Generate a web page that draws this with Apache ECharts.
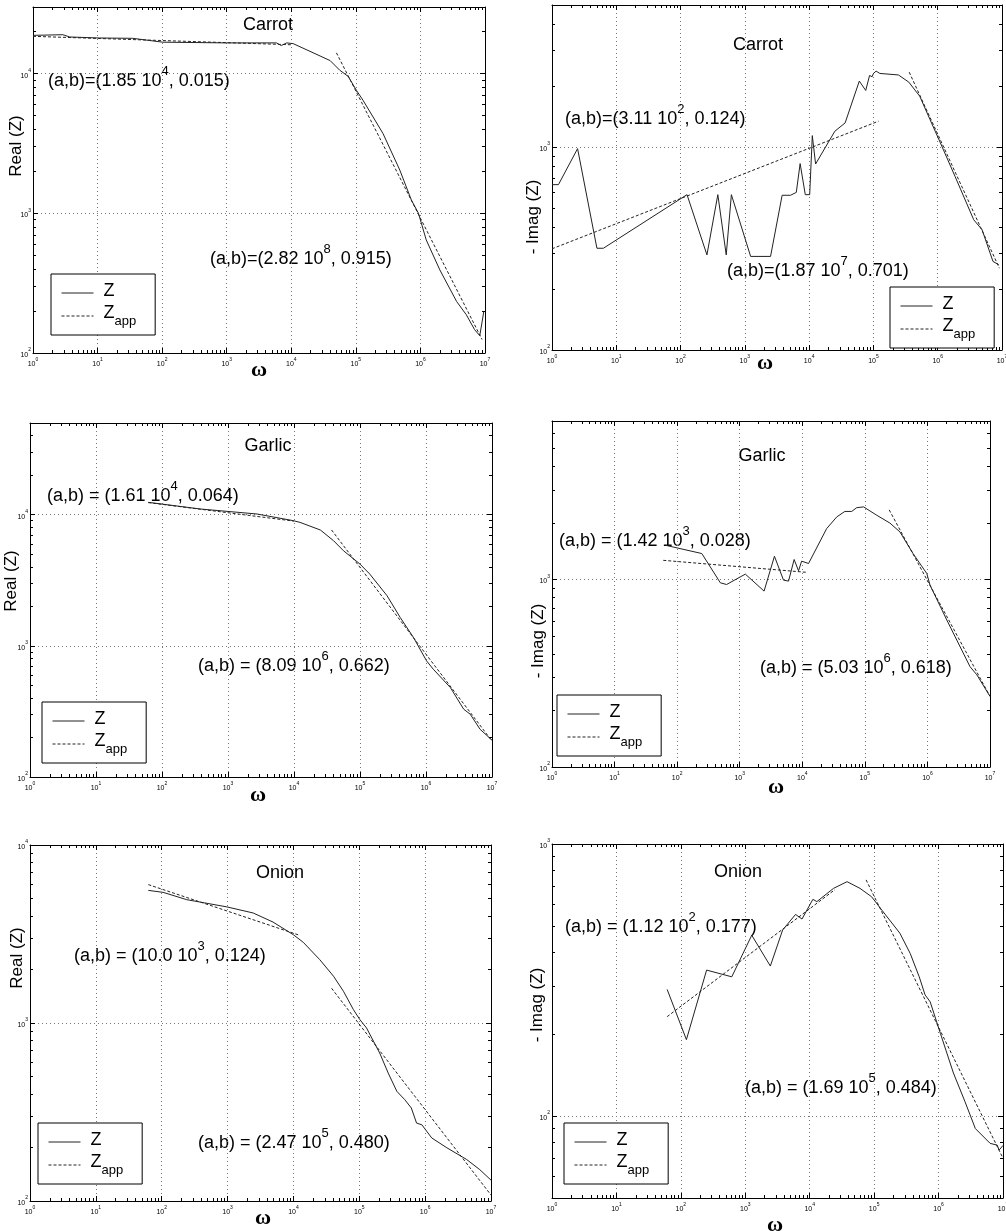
<!DOCTYPE html>
<html><head><meta charset="utf-8">
<script src="https://cdn.jsdelivr.net/npm/echarts@6/dist/echarts.min.js"></script>
<style>html,body{margin:0;padding:0;background:#fff}#c{width:1006px;height:1231px}</style>
</head><body><div id="c"></div>
<script>
// ---------------- DATA ----------------
// Carrot, Real(Z)
const carrotReW = [1, 2.9, 3.7, 10.7, 35, 102, 1000, 5900, 7000, 8500, 10700, 40000, 56000, 76000, 102000, 129000, 263000, 479000, 724000, 933000, 1.23e6, 2.0e6, 3.63e6, 5.13e6, 6.9e6, 8.3e6, 9.6e6];
const carrotReZ = [18800, 19000, 18300, 18000, 17900, 16800, 16600, 16600, 15900, 16600, 16400, 12400, 10600, 9560, 7600, 6450, 3730, 2040, 1245, 1000, 645, 393, 234, 188, 147, 133, 199];
const carrotReFitLoW = [1, 1e4];      const carrotReFitLoZ = [18500, 16100];
const carrotReFitHiW = [5e4, 9e6];    const carrotReFitHiZ = [14100, 125];
// Carrot, -Imag(Z)
const carrotImW = [1, 1.26, 2.5, 5.0, 6.3, 126, 257, 380, 513, 617, 1230, 2510, 3800, 5130, 6310, 7240, 8710, 10200, 11200, 12600, 25100, 36300, 60300, 75900, 87100, 95500, 100000, 110000, 126000, 245000, 355000, 525000, 759000, 1.1e6, 1.86e6, 3.63e6, 4.9e6, 7.24e6, 8.9e6];
const carrotImZ = [652, 652, 981, 317, 317, 582, 294, 582, 294, 582, 289, 289, 578, 578, 597, 828, 582, 582, 1137, 824, 1195, 1313, 2110, 1897, 2248, 2217, 2301, 2362, 2301, 2262, 2085, 1778, 1364, 1047, 716, 438, 391, 273, 263];
const carrotImFitLoW = [1, 1.2e5];    const carrotImFitLoZ = [315, 1339];
const carrotImFitHiW = [3.6e5, 9.1e6]; const carrotImFitHiZ = [2335, 253];
// Garlic, Real(Z)
const garlicReW = [62, 380, 2750, 9770, 12300, 25100, 39800, 56200, 100000, 141000, 257000, 407000, 646000, 1.02e6, 1.29e6, 2.34e6, 3.72e6, 4.68e6, 6.6e6, 1e7];
const garlicReZ = [12420, 11050, 10120, 9000, 8740, 7640, 6330, 5310, 4200, 3520, 2410, 1645, 1158, 768, 663, 481, 329, 301, 231, 191];
const garlicReFitLoW = [62, 1e4];     const garlicReFitLoZ = [12360, 8930];
const garlicReFitHiW = [3.7e4, 1e7];  const garlicReFitHiZ = [7650, 188];
// Garlic, -Imag(Z)
const garlicImW = [64.5, 248, 490, 617, 1230, 2450, 3590, 5010, 6030, 7410, 8710, 9770, 12600, 24500, 35500, 47900, 61700, 74100, 95500, 155000, 251000, 363000, 589000, 977000, 1.1e6, 2.04e6, 4.79e6, 6.17e6, 1e7];
const garlicImZ = [1523, 1375, 960, 940, 1068, 867, 1330, 992, 980, 1278, 1112, 1252, 1217, 1867, 2155, 2306, 2306, 2415, 2438, 2200, 2000, 1794, 1375, 1076, 933, 608, 343, 310, 238];
const garlicImFitLoW = [60, 1.2e4];   const garlicImFitLoZ = [1265, 1091];
const garlicImFitHiW = [2.45e5, 1e7]; const garlicImFitHiZ = [2350, 238];
// Onion, Real(Z)
const onionReW = [62.6, 105, 240, 977, 2450, 4900, 10000, 14100, 25100, 40700, 57500, 81300, 102000, 129000, 204000, 275000, 372000, 490000, 617000, 741000, 891000, 1.26e6, 2.14e6, 4.27e6, 6.76e6, 1e7];
const onionReZ = [5560, 5420, 4930, 4490, 4150, 3690, 3130, 2840, 2270, 1830, 1507, 1190, 1045, 937, 678, 523, 413, 371, 333, 274, 268, 226, 199, 171, 150, 131];
const onionReFitLoW = [62.6, 12600];  const onionReFitLoZ = [5990, 3104];
const onionReFitHiW = [3.8e4, 1e7];   const onionReFitHiZ = [1566, 108];
// Onion, -Imag(Z)
const onionImW = [61.3, 122, 251, 617, 1260, 2450, 3800, 6030, 7590, 11200, 12900, 23400, 38000, 60300, 91200, 132000, 251000, 363000, 501000, 617000, 741000, 1.07e6, 1.7e6, 2.57e6, 3.72e6, 6.31e6, 8.13e6, 8.7e6, 1e7];
const onionImZ = [292, 191, 344, 325, 462, 356, 483, 551, 530, 626, 614, 687, 727, 687, 640, 571, 470, 396, 325, 279, 263, 201, 144, 113, 90, 79.4, 78.2, 75, 78];
const onionImFitLoW = [61.3, 2.47e4]; const onionImFitLoZ = [232, 680];
const onionImFitHiW = [7.5e4, 1e7];   const onionImFitHiZ = [738, 70];

// texts
const panelTitles = ['Carrot', 'Carrot', 'Garlic', 'Garlic', 'Onion', 'Onion'];
const yTitles = ['Real (Z)', '- Imag (Z)', 'Real (Z)', '- Imag (Z)', 'Real (Z)', '- Imag (Z)'];
const xTitle = 'ω';
const fitLabels = [
  [['(a,b)=(1.85 10', '4', ', 0.015)'], ['(a,b)=(2.82 10', '8', ', 0.915)']],
  [['(a,b)=(3.11 10', '2', ', 0.124)'], ['(a,b)=(1.87 10', '7', ', 0.701)']],
  [['(a,b) = (1.61 10', '4', ', 0.064)'], ['(a,b) = (8.09 10', '6', ', 0.662)']],
  [['(a,b) = (1.42 10', '3', ', 0.028)'], ['(a,b) = (5.03 10', '6', ', 0.618)']],
  [['(a,b) = (10.0 10', '3', ', 0.124)'], ['(a,b) = (2.47 10', '5', ', 0.480)']],
  [['(a,b) = (1.12 10', '2', ', 0.177)'], ['(a,b) = (1.69 10', '5', ', 0.484)']]
];
const legendNames = ['Z', 'Zapp'];
const xRange = [1, 1e7];
const yRanges = [[100, 30000], [100, 5000], [100, 50000], [100, 7000], [100, 10000], [50, 1000]];

// ---------------- LAYOUT ----------------
const FONT = '"Liberation Sans", Arial, Helvetica, sans-serif';
const SERIF = '"Liberation Serif", "Times New Roman", serif';
const layout = [
  { grid: [33, 7, 452, 346],  title: [268, 25],  ytitle: [16, 146],  omega: [259, 370],  ann: [[48, 80], [210, 258]],  legend: [51, 274] },
  { grid: [552, 5, 450, 345], title: [758, 45],  ytitle: [533, 217], omega: [765, 363],  ann: [[565, 118], [727, 270]], legend: [890, 287] },
  { grid: [30, 423, 462, 354], title: [268, 446], ytitle: [11, 581], omega: [258, 795],  ann: [[47, 495], [198, 665]], legend: [42, 702] },
  { grid: [552, 421, 438, 346], title: [762, 456], ytitle: [538, 641], omega: [776, 787], ann: [[559, 540], [760, 667]], legend: [557, 695] },
  { grid: [30, 845, 461, 356], title: [280, 873], ytitle: [17, 958], omega: [263, 1218], ann: [[74, 955], [198, 1142]], legend: [38, 1123] },
  { grid: [552, 844, 451, 354], title: [738, 872], ytitle: [537, 1005], omega: [775, 1225], ann: [[565, 926], [745, 1087]], legend: [564, 1123] }
];
const panelData = [
  [carrotReW, carrotReZ, carrotReFitLoW, carrotReFitLoZ, carrotReFitHiW, carrotReFitHiZ],
  [carrotImW, carrotImZ, carrotImFitLoW, carrotImFitLoZ, carrotImFitHiW, carrotImFitHiZ],
  [garlicReW, garlicReZ, garlicReFitLoW, garlicReFitLoZ, garlicReFitHiW, garlicReFitHiZ],
  [garlicImW, garlicImZ, garlicImFitLoW, garlicImFitLoZ, garlicImFitHiW, garlicImFitHiZ],
  [onionReW, onionReZ, onionReFitLoW, onionReFitLoZ, onionReFitHiW, onionReFitHiZ],
  [onionImW, onionImZ, onionImFitLoW, onionImFitLoZ, onionImFitHiW, onionImFitHiZ]
];

function decades(lo, hi) {
  const out = [];
  for (let e = Math.ceil(Math.log10(lo) - 1e-9); e <= Math.floor(Math.log10(hi) + 1e-9); e++) out.push(Math.pow(10, e));
  return out;
}
function minorsOf(lo, hi) {
  const out = [];
  for (let e = Math.floor(Math.log10(lo)) ; e <= Math.floor(Math.log10(hi)); e++) {
    for (let k = 2; k <= 9; k++) { const v = k * Math.pow(10, e); if (v > lo * 1.0001 && v < hi * 0.9999) out.push(v); }
  }
  return out;
}
const tickRich = {
  b: { fontSize: 7, fontFamily: FONT, color: '#000', lineHeight: 11, verticalAlign: 'bottom' },
  s: { fontSize: 5, fontFamily: FONT, color: '#000', verticalAlign: 'top' }
};
function expFmt(v) {
  const e = Math.round(Math.log10(v));
  return '{b|10}{s|' + e + '}';
}
const BOX = { color: '#000', width: 1 };

const grids = [], xAxes = [], yAxes = [], series = [], legends = [], graphics = [];
layout.forEach((L, i) => {
  grids.push({ left: L.grid[0], top: L.grid[1], width: L.grid[2], height: L.grid[3], containLabel: false, outerBoundsMode: 'none' });
  const xMaj = decades(xRange[0], xRange[1]), xMin = minorsOf(xRange[0], xRange[1]);
  const yr = yRanges[i];
  const yMaj = decades(yr[0], yr[1]), yMin = minorsOf(yr[0], yr[1]);
  const xb = { type: 'log', logBase: 10, min: xRange[0], max: xRange[1], gridIndex: i };
  const yb = { type: 'log', logBase: 10, min: yr[0], max: yr[1], gridIndex: i };
  const off = { show: false };
  xAxes.push(Object.assign({}, xb, { position: 'bottom',
    axisLine: { show: true, onZero: false, lineStyle: BOX },
    axisTick: { show: true, inside: true, length: 5, customValues: xMaj, lineStyle: BOX },
    axisLabel: { show: true, customValues: xMaj, formatter: expFmt, rich: tickRich, margin: 4, color: '#000' },
    splitLine: { show: true, lineStyle: { color: '#777', type: [1, 3], width: 1 } } }));
  xAxes.push(Object.assign({}, xb, { position: 'bottom', axisLine: off,
    axisTick: { show: true, inside: true, length: 3, customValues: xMin, lineStyle: BOX }, axisLabel: off, splitLine: off }));
  xAxes.push(Object.assign({}, xb, { position: 'top', axisLine: { show: true, onZero: false, lineStyle: BOX },
    axisTick: { show: true, inside: true, length: 5, customValues: xMaj, lineStyle: BOX }, axisLabel: off, splitLine: off }));
  xAxes.push(Object.assign({}, xb, { position: 'top', axisLine: off,
    axisTick: { show: true, inside: true, length: 3, customValues: xMin, lineStyle: BOX }, axisLabel: off, splitLine: off }));
  yAxes.push(Object.assign({}, yb, { position: 'left',
    axisLine: { show: true, onZero: false, lineStyle: BOX },
    axisTick: { show: true, inside: true, length: 5, customValues: yMaj, lineStyle: BOX },
    axisLabel: { show: true, customValues: yMaj, formatter: expFmt, rich: tickRich, margin: 2, color: '#000' },
    splitLine: { show: true, lineStyle: { color: '#777', type: [1, 3], width: 1 } } }));
  yAxes.push(Object.assign({}, yb, { position: 'left', axisLine: off,
    axisTick: { show: true, inside: true, length: 3, customValues: yMin, lineStyle: BOX }, axisLabel: off, splitLine: off }));
  yAxes.push(Object.assign({}, yb, { position: 'right', axisLine: { show: true, onZero: false, lineStyle: BOX },
    axisTick: { show: true, inside: true, length: 5, customValues: yMaj, lineStyle: BOX }, axisLabel: off, splitLine: off }));
  yAxes.push(Object.assign({}, yb, { position: 'right', axisLine: off,
    axisTick: { show: true, inside: true, length: 3, customValues: yMin, lineStyle: BOX }, axisLabel: off, splitLine: off }));

  const d = panelData[i];
  const pairs = (w, z) => w.map((x, k) => [x, z[k]]);
  const common = { xAxisIndex: 4 * i, yAxisIndex: 4 * i, symbol: 'none', showSymbol: false, animation: false, z: 3 };
  series.push(Object.assign({ type: 'line', name: legendNames[0], data: pairs(d[0], d[1]),
    lineStyle: { color: '#222', width: 1 }, itemStyle: { color: '#222' } }, common));
  series.push(Object.assign({ type: 'line', name: legendNames[1], data: pairs(d[2], d[3]),
    lineStyle: { color: '#222', width: 1, type: [3, 2] }, itemStyle: { color: '#222' } }, common));
  series.push(Object.assign({ type: 'line', name: legendNames[1], data: pairs(d[4], d[5]),
    lineStyle: { color: '#222', width: 1, type: [3, 2] }, itemStyle: { color: '#222' } }, common));

  legends.push({
    show: true, type: 'plain',
    data: legendNames, orient: 'vertical', left: L.legend[0], top: L.legend[1],
    padding: [8, 19, 7, 10], itemGap: 4, itemWidth: 32, itemHeight: 12,
    borderColor: '#000', borderWidth: 1, borderRadius: 0, backgroundColor: '#fff',
    selectedMode: false, z: 10,
    itemStyle: { color: 'rgba(0,0,0,0)', borderColor: 'rgba(0,0,0,0)', borderWidth: 0, opacity: 0 },
    lineStyle: { width: 1, color: '#222' },
    formatter: function (n) { return n === 'Z' ? '{m|Z}' : '{m|Z}{sub|app}'; },
    textStyle: { color: '#000', rich: {
      m: { fontSize: 18, fontFamily: FONT, color: '#000', padding: [0, 0, 0, 5], lineHeight: 22, verticalAlign: 'top' },
      sub: { fontSize: 13, fontFamily: FONT, color: '#000', lineHeight: 24, verticalAlign: 'bottom' } } }
  });

  graphics.push({ type: 'text', x: L.title[0], y: L.title[1], silent: true,
    style: { text: panelTitles[i], font: '18px ' + FONT, fill: '#000', align: 'center', verticalAlign: 'middle' } });
  graphics.push({ type: 'text', x: L.ytitle[0], y: L.ytitle[1], rotation: Math.PI / 2, silent: true,
    style: { text: yTitles[i], font: '17px ' + FONT, fill: '#000', align: 'center', verticalAlign: 'middle' } });
  graphics.push({ type: 'text', x: L.omega[0], y: L.omega[1], silent: true,
    style: { text: xTitle, font: 'bold 22px ' + SERIF, fill: '#000', align: 'center', verticalAlign: 'middle' } });
  fitLabels[i].forEach((lab, j) => {
    graphics.push({ type: 'text', x: L.ann[j][0], y: L.ann[j][1] - 17, silent: true,
      style: { text: '{t|' + lab[0] + '}{s|' + lab[1] + '}{t|' + lab[2] + '}', fill: '#000', align: 'left', verticalAlign: 'top',
        rich: { t: { fontSize: 18, fontFamily: FONT, fill: '#000', lineHeight: 27, verticalAlign: 'bottom' },
                s: { fontSize: 13, fontFamily: FONT, fill: '#000', verticalAlign: 'top', padding: [2, 0, 0, 0] } } } });
  });
});

const chart = echarts.init(document.getElementById('c'), null, { renderer: 'canvas' });
chart.setOption({
  animation: false, backgroundColor: '#fff',
  grid: grids, xAxis: xAxes, yAxis: yAxes, series: series, legend: legends, graphic: graphics
});
</script></body></html>
